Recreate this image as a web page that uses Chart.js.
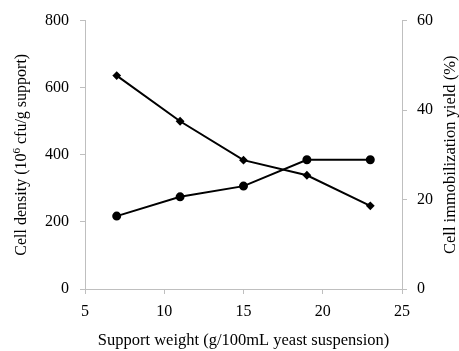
<!DOCTYPE html>
<html lang="en">
<head>
  <meta charset="UTF-8" />
  <title>Cell density and immobilization yield</title>
  <style>
    body {
      margin: 0;
      padding: 0;
      background: white;
    }
    #chart {
      display: block;
    }
  </style>
</head>
<body>

<canvas id="chart" width="459" height="351"></canvas>

<script src="https://cdn.jsdelivr.net/npm/chart.js"></script>
<script>
const supportWeight = [7, 11, 15, 19, 23];
const cellDensity = [636, 500, 384, 339, 248];
const immobYield = [16.3, 20.6, 23.0, 28.9, 28.9];

const xTicks = [5, 10, 15, 20, 25];
const leftTicks = [0, 200, 400, 600, 800];
const rightTicks = [0, 20, 40, 60];

const serif = "'Liberation Serif', 'Times New Roman', serif";
const axisGray = '#bfbfbf';

Chart.defaults.font.family = serif;
Chart.defaults.color = '#000';

// y titles read bottom-to-top on both sides, so draw them by hand
const yTitles = {
  id: 'yTitles',
  afterDraw(chart) {
    const ctx = chart.ctx;
    const area = chart.chartArea;
    const midY = (area.top + area.bottom) / 2;
    const big = '16px ' + serif;
    const small = '11px ' + serif;
    ctx.save();
    ctx.fillStyle = '#000';
    ctx.textBaseline = 'middle';

    // left: Cell density (10^6 cfu/g support)
    ctx.save();
    ctx.translate(22, midY);
    ctx.rotate(-Math.PI / 2);
    const p1 = 'Cell density (10';
    const p2 = '6';
    const p3 = ' cfu/g support)';
    ctx.font = big;
    const w1 = ctx.measureText(p1).width;
    const w3 = ctx.measureText(p3).width;
    ctx.font = small;
    const w2 = ctx.measureText(p2).width;
    let x = -(w1 + w2 + w3) / 2;
    ctx.textAlign = 'left';
    ctx.font = big;
    ctx.fillText(p1, x, 0);
    x += w1;
    ctx.font = small;
    ctx.fillText(p2, x, -5);
    x += w2;
    ctx.font = big;
    ctx.fillText(p3, x, 0);
    ctx.restore();

    // right
    ctx.save();
    ctx.translate(451, midY);
    ctx.rotate(-Math.PI / 2);
    ctx.textAlign = 'center';
    ctx.font = '16.5px ' + serif;
    ctx.fillText('Cell immobilization yield (%)', 0, 0);
    ctx.restore();

    ctx.restore();
  }
};

const tickFont = { family: serif, size: 16 };

const ctx = document.getElementById('chart').getContext('2d');

new Chart(ctx, {
  type: 'line',
  data: {
    datasets: [
      {
        label: 'Cell density',
        data: supportWeight.map((v, i) => ({ x: v, y: cellDensity[i] })),
        yAxisID: 'y',
        borderColor: '#000',
        backgroundColor: '#000',
        borderWidth: 2,
        pointStyle: 'rectRot',
        pointRadius: 3,
        tension: 0
      },
      {
        label: 'Immobilization yield',
        data: supportWeight.map((v, i) => ({ x: v, y: immobYield[i] })),
        yAxisID: 'y2',
        borderColor: '#000',
        backgroundColor: '#000',
        borderWidth: 2,
        pointStyle: 'circle',
        pointRadius: 3.5,
        tension: 0
      }
    ]
  },
  options: {
    responsive: false,
    animation: false,
    layout: { padding: { top: 20, left: 0, right: 0, bottom: 0 } },
    plugins: {
      legend: { display: false },
      tooltip: { enabled: false }
    },
    scales: {
      x: {
        type: 'linear',
        min: 5,
        max: 25,
        afterBuildTicks: s => { s.ticks = xTicks.map(v => ({ value: v })); },
        afterFit: s => { s.height = 62; },
        ticks: { color: '#000', font: tickFont, padding: 8 },
        grid: { drawOnChartArea: false, color: axisGray, tickLength: 5 },
        border: { color: axisGray },
        title: {
          display: true,
          text: 'Support weight (g/100mL yeast suspension)',
          color: '#000',
          font: { family: serif, size: 16.5 },
          padding: { top: 0, bottom: 0 }
        }
      },
      y: {
        position: 'left',
        min: 0,
        max: 800,
        afterBuildTicks: s => { s.ticks = leftTicks.map(v => ({ value: v })); },
        afterFit: s => { s.width = 85; },
        ticks: { color: '#000', font: tickFont, padding: 11 },
        grid: { drawOnChartArea: false, color: axisGray, tickLength: 5 },
        border: { color: axisGray }
      },
      y2: {
        position: 'right',
        min: 0,
        max: 60,
        afterBuildTicks: s => { s.ticks = rightTicks.map(v => ({ value: v })); },
        afterFit: s => { s.width = 57; },
        ticks: { color: '#000', font: tickFont, padding: 10 },
        grid: { drawOnChartArea: false, color: axisGray, tickLength: 5 },
        border: { color: axisGray }
      }
    }
  },
  plugins: [yTitles]
});
</script>
</body>
</html>
